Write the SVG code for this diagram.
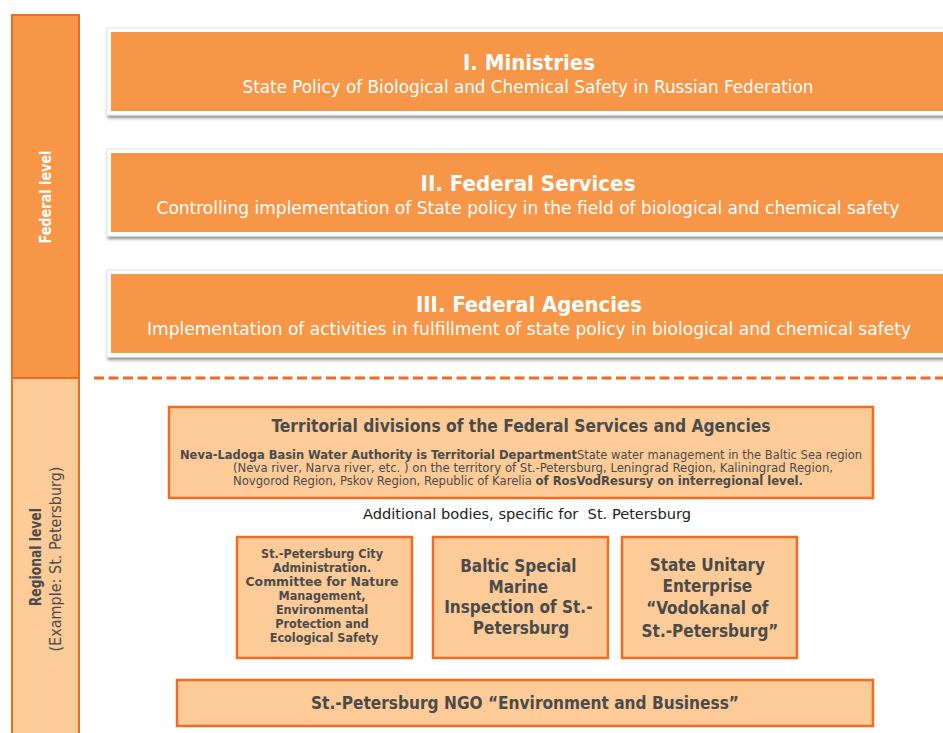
<svg xmlns="http://www.w3.org/2000/svg" width="943" height="733" viewBox="0 0 943 733">
<defs>
<filter id="sh" x="-5%" y="-20%" width="110%" height="150%">
<feDropShadow dx="1" dy="2.5" stdDeviation="1.5" flood-color="#000" flood-opacity="0.45"/>
</filter>
</defs>
<style>
text{font-family:"DejaVu Sans Condensed","DejaVu Sans","Liberation Sans",sans-serif;font-stretch:condensed}
.fed{fill:#F79646}
.frame{fill:#fff;stroke:#e4e4e4;stroke-width:1}
.bar{stroke:#EE6A22;stroke-width:2}
.peach{fill:#FCCB98;stroke:#F26B21;stroke-width:2.5}
.wt{fill:#fff;text-anchor:middle}
.gt{fill:#4B4B4B;text-anchor:middle}
.b{font-weight:bold}
</style>
<rect width="943" height="733" fill="#fff"/>
<g id="federal-level">
<rect class="fed bar" x="12" y="15" width="67" height="363"/>
<text class="wt b" font-size="15" transform="translate(51,197) rotate(-90)" textLength="93" lengthAdjust="spacingAndGlyphs">Federal level</text>
</g>
<g id="regional-level">
<rect x="12" y="378" width="67" height="365" fill="#FCCB98" class="bar"/>
<text class="gt" font-size="15" transform="rotate(-90)">
<tspan class="b" x="-555" y="41" textLength="98" lengthAdjust="spacingAndGlyphs">Regional level</tspan>
<tspan x="-559" y="61" textLength="185" lengthAdjust="spacingAndGlyphs">(Example: St. Petersburg)</tspan>
</text>
</g>
<g id="ministries">
<rect class="frame" x="107" y="28" width="845" height="87" filter="url(#sh)"/>
<rect class="fed" x="111" y="32" width="834" height="79"/>
<text class="wt b" x="529" y="70" font-size="22" textLength="132" lengthAdjust="spacingAndGlyphs">I. Ministries</text>
<text class="wt" x="528" y="93" font-size="17" textLength="571" lengthAdjust="spacingAndGlyphs">State Policy of Biological and Chemical Safety in Russian Federation</text>
</g>
<g id="federal-services">
<rect class="frame" x="107" y="149" width="845" height="87" filter="url(#sh)"/>
<rect class="fed" x="111" y="153" width="834" height="79"/>
<text class="wt b" x="528" y="191" font-size="22" textLength="215" lengthAdjust="spacingAndGlyphs">II. Federal Services</text>
<text class="wt" x="528" y="214" font-size="17" textLength="743" lengthAdjust="spacingAndGlyphs">Controlling implementation of State policy in the field of biological and chemical safety</text>
</g>
<g id="federal-agencies">
<rect class="frame" x="107" y="270" width="845" height="87" filter="url(#sh)"/>
<rect class="fed" x="111" y="274" width="834" height="79"/>
<text class="wt b" x="529" y="312" font-size="22" textLength="226" lengthAdjust="spacingAndGlyphs">III. Federal Agencies</text>
<text class="wt" x="529" y="335" font-size="17" textLength="764" lengthAdjust="spacingAndGlyphs">Implementation of activities in fulfillment of state policy in biological and chemical safety</text>
</g>
<g id="connectors">
<line x1="94" y1="378" x2="943" y2="378" stroke="#F26B21" stroke-width="3" stroke-dasharray="10,4.5"/>
</g>
<g id="territorial-divisions">
<rect class="peach" x="169" y="407" width="704" height="91"/>
<text class="gt b" x="521" y="432" font-size="17" textLength="499" lengthAdjust="spacingAndGlyphs">Territorial divisions of the Federal Services and Agencies</text>
<text class="gt" x="521" y="459" font-size="12" textLength="682" lengthAdjust="spacingAndGlyphs"><tspan class="b">Neva-Ladoga Basin Water Authority is Territorial Department</tspan>State water management in the Baltic Sea region</text>
<text class="gt" x="533" y="472" font-size="12" textLength="600" lengthAdjust="spacingAndGlyphs">(Neva river, Narva river, etc. ) on the territory of St.-Petersburg, Leningrad Region, Kaliningrad Region,</text>
<text class="gt" x="518" y="485" font-size="12" textLength="570" lengthAdjust="spacingAndGlyphs">Novgorod Region, Pskov Region, Republic of Karelia <tspan class="b">of RosVodResursy on interregional level.</tspan></text>
</g>
<g id="additional-label">
<text x="527" y="519" font-size="14" fill="#222" text-anchor="middle" xml:space="preserve" textLength="328" lengthAdjust="spacingAndGlyphs">Additional bodies, specific for  St. Petersburg</text>
</g>
<g id="city-administration">
<rect class="peach" x="237" y="537" width="175" height="121"/>
<text class="gt b" font-size="12.5">
<tspan x="324" y="558">St.-Petersburg City</tspan>
<tspan x="324" y="572">Administration.</tspan>
<tspan x="324" y="586" textLength="153" lengthAdjust="spacingAndGlyphs">Committee for Nature</tspan>
<tspan x="324" y="600">Management,</tspan>
<tspan x="324" y="614">Environmental</tspan>
<tspan x="324" y="628">Protection and</tspan>
<tspan x="324" y="642">Ecological Safety</tspan>
</text>
</g>
<g id="marine-inspection">
<rect class="peach" x="433" y="537" width="175" height="121"/>
<text class="gt b" font-size="17">
<tspan x="521" y="572">Baltic Special</tspan>
<tspan x="521" y="593">Marine</tspan>
<tspan x="521" y="613">Inspection of St.-</tspan>
<tspan x="521" y="634">Petersburg</tspan>
</text>
</g>
<g id="vodokanal">
<rect class="peach" x="622" y="537" width="175" height="121"/>
<text class="gt b" font-size="17">
<tspan x="710" y="571">State Unitary</tspan>
<tspan x="710" y="592">Enterprise</tspan>
<tspan x="710" y="614">“Vodokanal of</tspan>
<tspan x="710" y="637">St.-Petersburg”</tspan>
</text>
</g>
<g id="ngo">
<rect class="peach" x="177" y="680" width="696" height="46"/>
<text class="gt b" x="525" y="709" font-size="17" textLength="428" lengthAdjust="spacingAndGlyphs">St.-Petersburg NGO “Environment and Business”</text>
</g>
</svg>
